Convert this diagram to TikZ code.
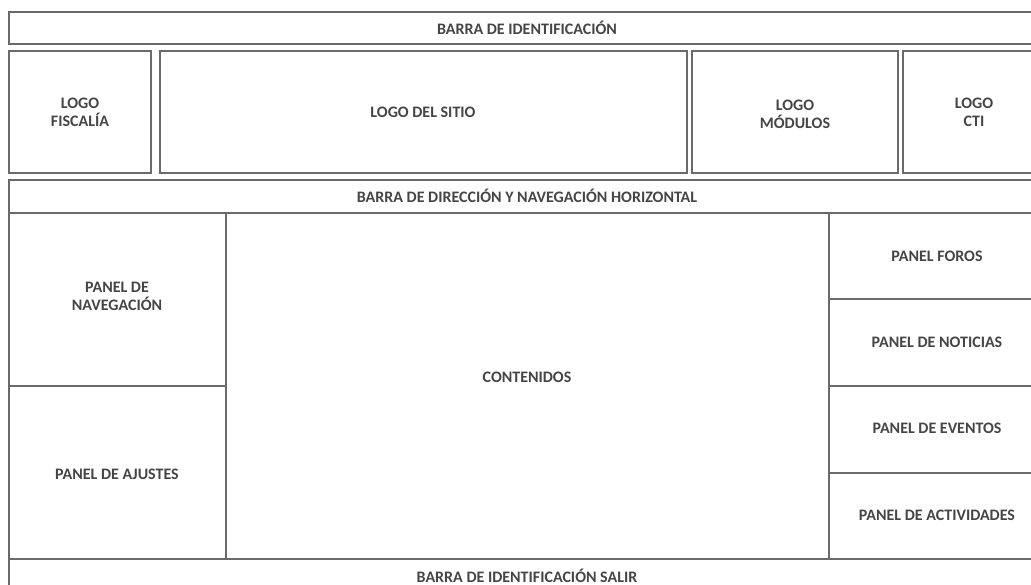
\documentclass[tikz,border=0pt]{standalone}
\usepackage{fontspec}
\setmainfont{Carlito}
\usetikzlibrary{positioning}
\definecolor{FrameGray}{HTML}{6A6A6A}
\definecolor{TextGray}{HTML}{454545}

\tikzset{
  frame/.style={draw=FrameGray,line width=1.5pt},
  tag/.style={text=TextGray,font=\fontsize{16}{18}\selectfont\bfseries,align=center,inner sep=0pt}
}

\begin{document}
\begin{tikzpicture}[x=1pt,y=-1pt]
   \useasboundingbox (0,0) rectangle (1031,585);
   \clip (0,0) rectangle (1031,585);

   \draw[frame] (9,12) rectangle (1045,44);
   \node[tag] (barraid) at (527,28) {BARRA DE IDENTIFICACIÓN};

   \draw[frame] (9,51) rectangle (151,173);
   \draw[frame] (160,51) rectangle (687,173);
   \draw[frame] (692,51) rectangle (898,173);
   \draw[frame] (903,51) rectangle (1045,173);
   \node[tag] (logofis) at (80,112) {LOGO\\FISCALÍA};
   \node[tag] (logositio) at (423,112) {LOGO DEL SITIO};
   \node[tag] (logomod) at (795,114) {LOGO\\MÓDULOS};
   \node[tag] (logocti) at (974,112) {LOGO\\CTI};

   \draw[frame] (9,180) rectangle (1045,213);
   \node[tag] (barradir) at (527,196) {BARRA DE DIRECCIÓN Y NAVEGACIÓN HORIZONTAL};

   \draw[frame] (9,213) rectangle (1045,559);
   \draw[frame] (226,213) -- (226,559);
   \draw[frame] (829,213) -- (829,559);
   \draw[frame] (9,386) -- (226,386);
   \draw[frame] (829,299) -- (1045,299);
   \draw[frame] (829,386) -- (1045,386);
   \draw[frame] (829,473) -- (1045,473);
   \node[tag] (pnav) at (117,296) {PANEL DE\\NAVEGACIÓN};
   \node[tag] (pajus) at (117,474) {PANEL DE AJUSTES};
   \node[tag] (conten) at (527,377) {CONTENIDOS};
   \node[tag] (pforos) at (937,256) {PANEL FOROS};
   \node[tag] (pnoti) at (937,342) {PANEL DE NOTICIAS};
   \node[tag] (pevent) at (937,428) {PANEL DE EVENTOS};
   \node[tag] (pactiv) at (937,515) {PANEL DE ACTIVIDADES};

   \draw[frame] (9,559) rectangle (1045,600);
   \node[tag] (barrasal) at (527,576) {BARRA DE IDENTIFICACIÓN SALIR};
\end{tikzpicture}
\end{document}
